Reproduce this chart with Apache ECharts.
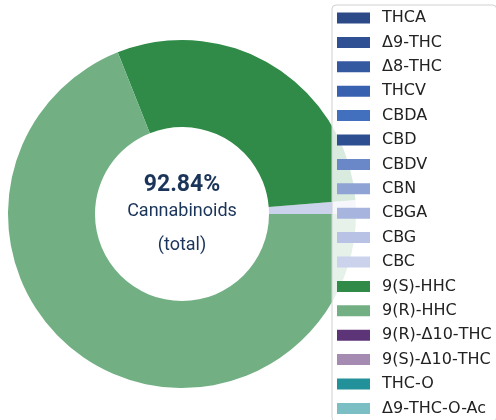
<!DOCTYPE html>
<html>
<head>
<meta charset="utf-8">
<script src="https://cdn.jsdelivr.net/npm/echarts@6/dist/echarts.min.js"></script>
<style>
    html, body { margin: 0; padding: 0; background: #fff; }
    #chart { width: 496px; height: 420px; }
</style>
</head>
<body>
<div id="chart"></div>
<script>
// cannabinoid names, shares (%) and slice colours
const names = ['THCA', 'Δ9-THC', 'Δ8-THC', 'THCV', 'CBDA', 'CBD', 'CBDV', 'CBN', 'CBGA', 'CBG', 'CBC',
    '9(S)-HHC', '9(R)-HHC', '9(R)-Δ10-THC', '9(S)-Δ10-THC', 'THC-O', 'Δ9-THC-O-Ac'];
const values = [0, 0, 0, 0, 0, 0, 0, 0, 0, 0, 1.2, 27.6, 64.04, 0, 0, 0, 0];
const colors = ['#2c4a87', '#2f5193', '#3459a1', '#3862b0', '#436fbf', '#2d4f92', '#6a87c8', '#8fa3d5',
    '#a6b4de', '#b7c2e5', '#cbd2eb', '#2f8b47', '#72b084', '#5e3478', '#a58ab2', '#22919a', '#7bbec3'];
const totalText = '92.84%';

const chart = echarts.init(document.getElementById('chart'));

const option = {
    animation: false,
    color: colors,
    title: {
        left: 182,
        top: 171,
        padding: 0,
        textAlign: 'center',
        text: '{v|' + totalText + '}\n{c|Cannabinoids}\n{t|(total)}',
        textStyle: {
            rich: {
                v: { fontFamily: 'Roboto', fontSize: 23, fontWeight: 'bold', color: '#1b345a', lineHeight: 28 },
                c: { fontFamily: 'Roboto', fontSize: 18, fontWeight: 'normal', color: '#1b345a', lineHeight: 24 },
                t: { fontFamily: 'Roboto', fontSize: 18, fontWeight: 'normal', color: '#1b345a', lineHeight: 44 }
            }
        }
    },
    legend: {
        orient: 'vertical',
        left: 332,
        top: 5,
        height: 450, // keep one column, it runs past the bottom edge
        padding: 5,
        itemWidth: 33,
        itemHeight: 11,
        itemGap: 8.4,
        icon: 'rect',
        backgroundColor: 'rgba(255,255,255,0.82)',
        borderColor: '#d0d0d0',
        borderWidth: 1,
        borderRadius: 4,
        textStyle: {
            fontFamily: 'DejaVu Sans',
            fontSize: 16,
            color: '#222',
            padding: [0, 0, 0, 7]
        },
        data: names
    },
    series: [{
        type: 'pie',
        center: [182, 214],
        radius: [87, 174],
        startAngle: 0,
        clockwise: false,
        label: { show: false },
        labelLine: { show: false },
        data: names.map((n, i) => ({ name: n, value: values[i] }))
    }]
};

chart.setOption(option);
</script>
</body>
</html>
